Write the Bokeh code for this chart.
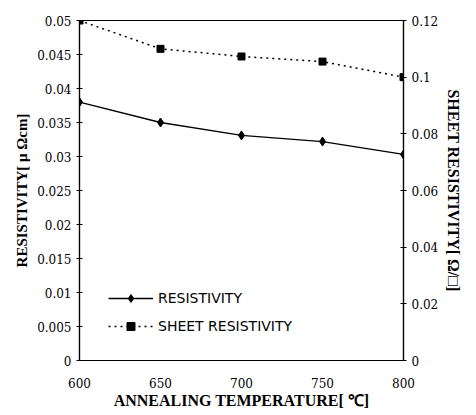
from bokeh.plotting import figure
from bokeh.models import Range1d, LinearAxis, Legend, LegendItem, FixedTicker
from bokeh.embed import file_html
from bokeh.resources import INLINE

temps = [600, 650, 700, 750, 800]
resistivity = [0.0380, 0.0350, 0.0331, 0.0322, 0.0303]
sheet_resistivity = [0.120, 0.110, 0.1073, 0.1055, 0.1000]
left_ticks = [0, 0.005, 0.01, 0.015, 0.02, 0.025, 0.03, 0.035, 0.04, 0.045, 0.05]
right_ticks = [0, 0.02, 0.04, 0.06, 0.08, 0.1, 0.12]
x_ticks = [600, 650, 700, 750, 800]

p = figure(width=476, height=415, output_backend="svg", toolbar_location=None,
           x_range=Range1d(600, 800), y_range=Range1d(0, 0.05),
           min_border_left=79, min_border_right=73, min_border_top=20, min_border_bottom=55)
p.extra_y_ranges = {"sheet": Range1d(0, 0.12)}
p.xgrid.visible = False
p.ygrid.visible = False
p.outline_line_color = "black"
p.outline_line_width = 1.2
p.background_fill_color = "white"
p.border_fill_color = "white"

tick_font = "DejaVu Serif"
title_font = "Liberation Serif"

p.xaxis.ticker = FixedTicker(ticks=x_ticks)
p.xaxis.major_label_overrides = {600: "600", 650: "650", 700: "700", 750: "750", 800: "800"}
p.xaxis.axis_label = "ANNEALING TEMPERATURE[ ℃]"
p.yaxis.ticker = FixedTicker(ticks=left_ticks)
p.yaxis.major_label_overrides = {0: "0", 0.005: "0.005", 0.01: "0.01", 0.015: "0.015", 0.02: "0.02",
                                 0.025: "0.025", 0.03: "0.03", 0.035: "0.035", 0.04: "0.04",
                                 0.045: "0.045", 0.05: "0.05"}
p.yaxis.axis_label = "RESISTIVITY[ μ Ωcm]"

raxis = LinearAxis(y_range_name="sheet", ticker=FixedTicker(ticks=right_ticks),
                   axis_label="SHEET RESISTIVITY[ Ω/□]")
raxis.major_label_overrides = {0: "0", 0.02: "0.02", 0.04: "0.04", 0.06: "0.06", 0.08: "0.08",
                               0.1: "0.1", 0.12: "0.12"}
p.add_layout(raxis, "right")

for ax in [p.xaxis[0], p.yaxis[0], raxis]:
    ax.major_label_text_font = tick_font
    ax.major_label_text_font_size = "12px"
    ax.major_label_text_color = "black"
    ax.axis_label_text_font = title_font
    ax.axis_label_text_font_style = "bold"
    ax.axis_label_text_font_size = "15px"
    ax.axis_label_text_color = "black"
    ax.axis_line_color = "black"
    ax.axis_line_width = 1.2
    ax.minor_tick_line_color = None
    ax.major_tick_line_color = "black"
    ax.major_tick_in = 3
    ax.major_tick_out = 3

raxis.axis_label_text_font_size = "16px"
raxis.axis_label_standoff = 22
p.yaxis.axis_label_standoff = 4
p.xaxis.major_tick_line_color = None
p.xaxis.major_label_standoff = 14
p.xaxis.axis_label_standoff = 1
p.xaxis.axis_label_text_font_size = "16px"

r1 = p.line(temps, resistivity, line_color="black", line_width=1.3)
m1 = p.scatter(temps, resistivity, marker="diamond", size=9, fill_color="black", line_color="black")
r2 = p.line(temps, sheet_resistivity, y_range_name="sheet", line_color="black", line_width=1.5,
            line_dash="2 4")
m2 = p.scatter(temps, sheet_resistivity, y_range_name="sheet", marker="square", size=7,
               fill_color="black", line_color="black")

legend = Legend(items=[LegendItem(label="RESISTIVITY", renderers=[r1, m1]),
                       LegendItem(label="SHEET RESISTIVITY", renderers=[r2, m2])],
                location=(29, 24), glyph_width=45, glyph_height=20, spacing=8,
                padding=0, margin=0, border_line_alpha=0, background_fill_alpha=0,
                label_text_font="DejaVu Sans", label_text_font_size="14px",
                label_text_color="black", label_standoff=5)
p.add_layout(legend, "center")

open("out.html", "w").write(file_html(p, INLINE))
